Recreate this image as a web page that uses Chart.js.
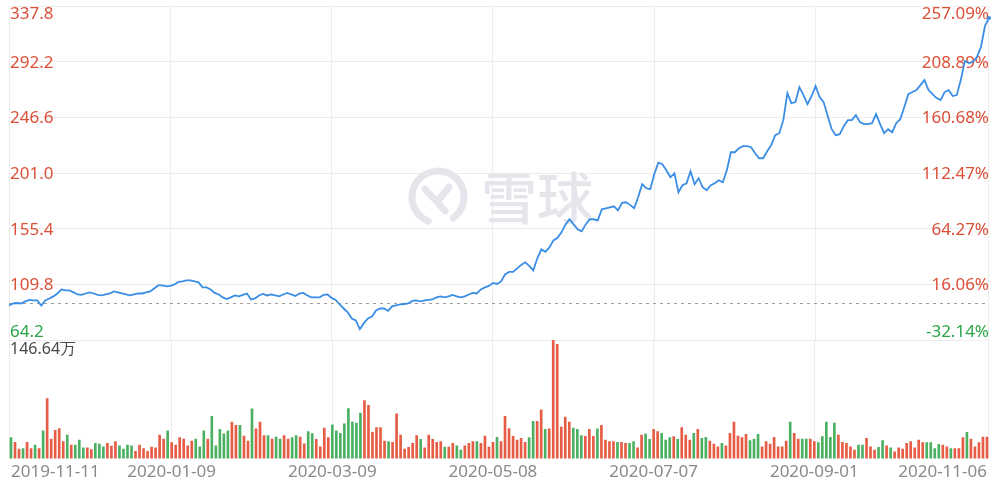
<!DOCTYPE html>
<html>
<head>
<meta charset="utf-8">
<script src="https://cdn.jsdelivr.net/npm/chart.js@4.4.1/dist/chart.umd.min.js"></script>
<style>
    html, body { margin: 0; padding: 0; background: #fff; }
    #wrap { position: relative; width: 1000px; height: 485px; overflow: hidden; }
    #priceBox { position: absolute; left: 0; top: 0; width: 1000px; height: 341px; }
    #volBox { position: absolute; left: 0; top: 340px; width: 1000px; height: 145px; }
</style>
</head>
<body>
<div id="wrap">
    <div id="priceBox"><canvas id="priceChart"></canvas></div>
    <div id="volBox"><canvas id="volChart"></canvas></div>
</div>
<script>
// --- Data ---
const closePrices = [
    92.5, 94.1, 94.5, 94.1, 95.8, 97.0, 96.6, 96.6, 92.5, 96.6,
    98.2, 99.9, 102.3, 105.6, 104.8, 104.8, 103.2, 101.5, 101.1, 102.3,
    103.2, 102.3, 101.1, 100.7, 101.5, 102.3, 104.0, 103.2, 102.3, 101.5,
    100.7, 101.5, 102.3, 102.3, 103.2, 104.0, 106.4, 108.9, 108.9, 108.1,
    108.5, 109.7, 111.8, 112.2, 113.0, 113.0, 112.2, 111.4, 107.3, 107.3,
    105.6, 102.8, 101.5, 99.1, 97.8, 99.1, 100.7, 99.9, 101.1, 102.3,
    97.4, 98.2, 100.7, 101.9, 100.7, 101.5, 100.7, 99.9, 101.5, 102.8,
    101.5, 100.3, 102.3, 102.8, 100.7, 99.1, 99.1, 99.1, 101.1, 101.5,
    98.7, 97.0, 93.3, 90.0, 86.8, 81.8, 80.2, 73.0, 78.0,
    81.8, 83.5, 88.4, 90.0, 90.0, 88.0, 91.7, 92.5, 93.3, 93.7,
    94.1, 96.2, 96.6, 95.8, 96.6, 97.0, 97.4, 99.1, 99.9, 99.1,
    99.9, 101.1, 99.9, 99.1, 99.9, 101.5, 102.8, 102.3, 105.6, 107.3,
    108.5, 111.0, 110.1, 112.2, 117.9, 120.0, 120.0, 122.9, 125.7, 127.8,
    124.9, 121.2, 131.1, 138.4, 136.4, 140.1, 145.8, 147.9, 152.4, 158.9,
    163.1, 158.9, 154.9, 153.2, 158.9, 163.1, 163.1, 162.2, 171.3, 172.1,
    172.9, 173.7, 170.4, 176.6, 177.0, 174.9, 172.1, 181.1, 191.8,
    188.5, 187.7, 200.0, 209.4, 208.2, 203.3, 197.5, 200.8, 185.2, 191.0,
    192.6, 202.4, 191.8, 196.7, 189.3, 186.9, 191.0, 192.6, 195.1, 193.4,
    203.3, 218.0, 218.0, 221.3, 223.0, 223.0, 222.1, 217.2, 213.1, 213.1,
    218.8, 223.8, 232.0, 233.6, 244.3, 266.4, 258.2, 259.1, 271.3, 264.8,
    257.4, 263.9, 272.2, 263.2, 259.1, 247.6, 236.9, 232.0, 232.8, 239.4,
    244.3, 244.3, 248.4, 242.7, 241.0, 241.0, 241.8, 249.2, 241.0, 233.6,
    236.9, 234.4, 241.8, 245.1, 255.0, 265.6, 267.3, 268.9, 273.0, 277.1,
    268.9, 265.6, 262.4, 260.7, 267.3, 268.9, 264.0, 264.8, 277.1, 292.7,
    291.1, 291.9, 296.0, 304.2, 321.4, 328.0
];

// volume, 万股
const volumes = [
    25.9, 20.1, 11.7, 12.5, 20.1, 12.5, 16.7, 12.5, 34.2, 74.3,
    24.2, 35.1, 37.2, 20.9, 29.2, 16.7, 16.7, 22.9, 13.4, 13.4,
    11.3, 18.8, 17.9, 14.7, 18.8, 15.4, 20.9, 15.9, 11.7, 16.7,
    15.9, 9.1, 16.7, 12.5, 9.1, 14.2, 13.4, 29.2, 24.2, 34.2,
    19.7, 16.7, 25.9, 24.2, 15.9, 21.7, 24.2, 14.7, 34.2, 24.2,
    52.3, 15.9, 36.3, 30.5, 34.2, 45.1, 41.0, 41.0, 27.9, 21.7,
    61.4, 36.7, 45.1, 28.4, 28.4, 24.2, 26.7, 24.2, 28.4, 24.2,
    25.9, 28.4, 26.7, 18.4, 33.5, 31.0, 23.8, 14.7, 37.6, 25.9,
    41.7, 34.2, 31.3, 43.0, 61.8, 45.1, 43.9, 56.4, 71.8, 66.0,
    32.6, 38.5, 38.5, 21.7, 20.9, 20.1, 55.5, 29.2, 11.7, 13.8,
    18.8, 28.4, 23.8, 13.4, 29.2, 23.8, 20.1, 20.9, 14.2, 14.2,
    18.8, 15.9, 10.4, 15.9, 18.8, 20.9, 20.9, 18.8, 27.9, 14.2,
    20.1, 26.3, 20.9, 52.3, 37.2, 27.6, 22.9, 25.1, 20.1, 25.9,
    46.0, 46.0, 60.2, 36.3, 36.7, 146.64, 141.2, 38.9, 51.4, 45.1,
    37.6, 36.3, 28.4, 27.6, 36.3, 27.6, 36.7, 41.0, 22.9, 20.9,
    20.9, 20.1, 20.1, 18.8, 18.8, 20.9, 13.4, 29.2, 30.5, 23.8,
    36.3, 33.5, 31.3, 22.9, 25.9, 27.2, 23.8, 38.5, 29.2, 22.9,
    31.3, 36.3, 25.1, 26.3, 21.7, 17.9, 14.7, 18.8, 15.9, 31.3,
    45.1, 27.9, 25.9, 30.1, 22.2, 24.2, 30.1, 14.7, 20.9, 17.9,
    26.3, 14.7, 14.7, 21.7, 45.1, 31.3, 24.2, 24.2, 24.2, 24.2,
    20.9, 19.7, 27.2, 45.1, 26.3, 43.9, 29.2, 20.1, 18.8, 14.7,
    10.4, 16.7, 16.7, 25.1, 14.7, 10.4, 13.8, 22.2, 15.9, 13.4,
    8.4, 13.4, 11.7, 18.8, 20.9, 13.4, 22.9, 19.7, 19.7, 19.7,
    12.5, 17.5, 16.7, 14.7, 12.5, 12.5, 12.5, 25.9, 32.6, 24.2,
    14.7, 19.7, 26.7, 26.7
];

const basePrice = 94.61;   // previous close at start of period (0%)
const priceTicks = [64.2, 109.8, 155.4, 201.0, 246.6, 292.2, 337.8];
const pctTicks = ['-32.14%', '16.06%', '64.27%', '112.47%', '160.68%', '208.89%', '257.09%'];
const volMaxLabel = '146.64万';
const dateTicks = ['2019-11-11', '2020-01-09', '2020-03-09', '2020-05-08', '2020-07-07', '2020-09-01', '2020-11-06'];
const dateTickIdx = [0, 40, 80, 120, 160, 200, 243];
const gridIdx = [40, 80, 120, 160, 200];

// --- Styles ---
const UP_TEXT = '#dd4f37';
const DOWN_TEXT = '#2aa548';
const UP_BAR = '#e65c44';
const DOWN_BAR = '#4cb062';
const GRID = '#ececec';
const LINE = '#3a8ee6';
const FONT = '"Noto Sans", "Open Sans", sans-serif';

const priceLabels = closePrices.map((_, i) => i);
const volLabels = volumes.map((_, i) => i);

const barColors = volumes.map((_, i) => {
    const prev = i === 0 ? basePrice : closePrices[i - 1];
    return closePrices[i] >= prev ? UP_BAR : DOWN_BAR;
});

// --- Plugins ---
const frameLines = {
    id: 'frameLines',
    beforeDatasetsDraw(chart) {
        const { ctx, chartArea: a } = chart;
        ctx.save();
        ctx.strokeStyle = GRID;
        ctx.lineWidth = 1;
        ctx.beginPath();
        ctx.moveTo(a.left + 0.5, a.top);
        ctx.lineTo(a.left + 0.5, a.bottom);
        ctx.moveTo(a.right - 0.5, a.top);
        ctx.lineTo(a.right - 0.5, a.bottom);
        ctx.stroke();
        ctx.restore();
    }
};

const priceDecor = {
    id: 'priceDecor',
    beforeDatasetsDraw(chart) {
        const { ctx, chartArea: a, scales } = chart;
        const y = scales.y;
        const cx = (a.left + a.right) / 2;
        const cy = (a.top + a.bottom) / 2 + 24;

        // watermark
        ctx.save();
        ctx.strokeStyle = '#e4e6eb';
        ctx.fillStyle = '#e4e6eb';
        ctx.lineWidth = 7;
        ctx.lineCap = 'round';
        ctx.beginPath();
        ctx.arc(cx - 61, cy, 26, Math.PI * 0.62, Math.PI * 2.3);
        ctx.stroke();
        ctx.beginPath();
        ctx.moveTo(cx - 74, cy - 8);
        ctx.lineTo(cx - 62, cy + 5);
        ctx.lineTo(cx - 50, cy - 10);
        ctx.moveTo(cx - 62, cy + 5);
        ctx.lineTo(cx - 54, cy + 14);
        ctx.stroke();
        ctx.font = '500 56px "Noto Sans CJK SC", sans-serif';
        ctx.textBaseline = 'middle';
        ctx.textAlign = 'left';
        ctx.fillText('雪球', cx - 18, cy + 1);
        ctx.restore();

        // dashed base line
        const by = Math.round(y.getPixelForValue(basePrice)) + 0.5;
        ctx.save();
        ctx.strokeStyle = '#9d9d9d';
        ctx.lineWidth = 1;
        ctx.setLineDash([3, 4]);
        ctx.beginPath();
        ctx.moveTo(a.left, by);
        ctx.lineTo(a.right - 4, by);
        ctx.stroke();
        ctx.restore();

        // axis labels inside the plot
        ctx.save();
        ctx.font = '17px ' + FONT;
        const last = priceTicks.length - 1;
        priceTicks.forEach((v, i) => {
            const py = y.getPixelForValue(v);
            let ty = py + 1;
            ctx.textBaseline = 'middle';
            if (i === last) { ctx.textBaseline = 'top'; ty = py; }
            if (i === 0) { ctx.textBaseline = 'alphabetic'; ty = py - 3; }
            ctx.fillStyle = v >= basePrice ? UP_TEXT : DOWN_TEXT;
            ctx.textAlign = 'left';
            ctx.fillText(v.toFixed(1), a.left + 1, ty);
            ctx.textAlign = 'right';
            ctx.fillText(pctTicks[i], a.right, ty);
        });
        ctx.restore();
    }
};

const volDecor = {
    id: 'volDecor',
    afterDraw(chart) {
        const { ctx, chartArea: a } = chart;
        ctx.save();
        ctx.font = '16px ' + FONT;
        ctx.fillStyle = '#4a4a4a';
        ctx.textAlign = 'left';
        ctx.textBaseline = 'top';
        ctx.fillText(volMaxLabel, a.left + 1, a.top + 1);
        ctx.restore();
    }
};

// --- Charts ---
function initCharts() {
    const lastIdx = closePrices.length - 1;
    new Chart(document.getElementById('priceChart'), {
        type: 'line',
        data: {
            labels: priceLabels,
            datasets: [{
                data: closePrices,
                borderColor: LINE,
                backgroundColor: LINE,
                borderWidth: 1.8,
                pointRadius: c => c.dataIndex === lastIdx ? 2 : 0,
                pointBorderWidth: 0,
                tension: 0,
                fill: false,
                clip: 4
            }]
        },
        options: {
            responsive: true,
            maintainAspectRatio: false,
            animation: false,
            layout: { autoPadding: false, padding: { left: 9, right: 11, top: 6, bottom: 1 } },
            plugins: { legend: { display: false }, tooltip: { enabled: false } },
            scales: {
                x: {
                    offset: false,
                    border: { display: false },
                    ticks: { display: false, autoSkip: false },
                    grid: {
                        drawTicks: false,
                        color: c => gridIdx.includes(c.index) ? GRID : 'rgba(0,0,0,0)'
                    }
                },
                y: {
                    min: priceTicks[0],
                    max: priceTicks[priceTicks.length - 1],
                    border: { display: false },
                    ticks: { display: false },
                    afterBuildTicks: s => { s.ticks = priceTicks.map(v => ({ value: v })); },
                    grid: { drawTicks: false, color: GRID }
                }
            }
        },
        plugins: [frameLines, priceDecor]
    });

    new Chart(document.getElementById('volChart'), {
        type: 'bar',
        data: {
            labels: volLabels,
            datasets: [{
                data: volumes,
                backgroundColor: barColors,
                barThickness: 2,
                borderWidth: 0
            }]
        },
        options: {
            responsive: true,
            maintainAspectRatio: false,
            animation: false,
            layout: { padding: { left: 9, right: 11, top: 0, bottom: 0 } },
            plugins: { legend: { display: false }, tooltip: { enabled: false } },
            scales: {
                x: {
                    border: { display: false },
                    grid: {
                        offset: false,
                        drawTicks: false,
                        color: c => gridIdx.includes(c.index) ? GRID : 'rgba(0,0,0,0)'
                    },
                    ticks: {
                        autoSkip: false,
                        maxRotation: 0,
                        align: 'inner',
                        padding: 3,
                        color: '#8a8a8a',
                        font: { family: FONT, size: 17, lineHeight: 1.2 },
                        callback: (v, i) => {
                            const k = dateTickIdx.indexOf(i);
                            return k >= 0 ? dateTicks[k] : '';
                        }
                    }
                },
                y: {
                    display: false,
                    min: 0,
                    max: Math.max(...volumes)
                }
            }
        },
        plugins: [frameLines, volDecor]
    });
}

document.addEventListener('DOMContentLoaded', () => {
    try {
        initCharts();
    } catch (e) {
        console.error('Chart init failed:', e);
    }
});
</script>
</body>
</html>
